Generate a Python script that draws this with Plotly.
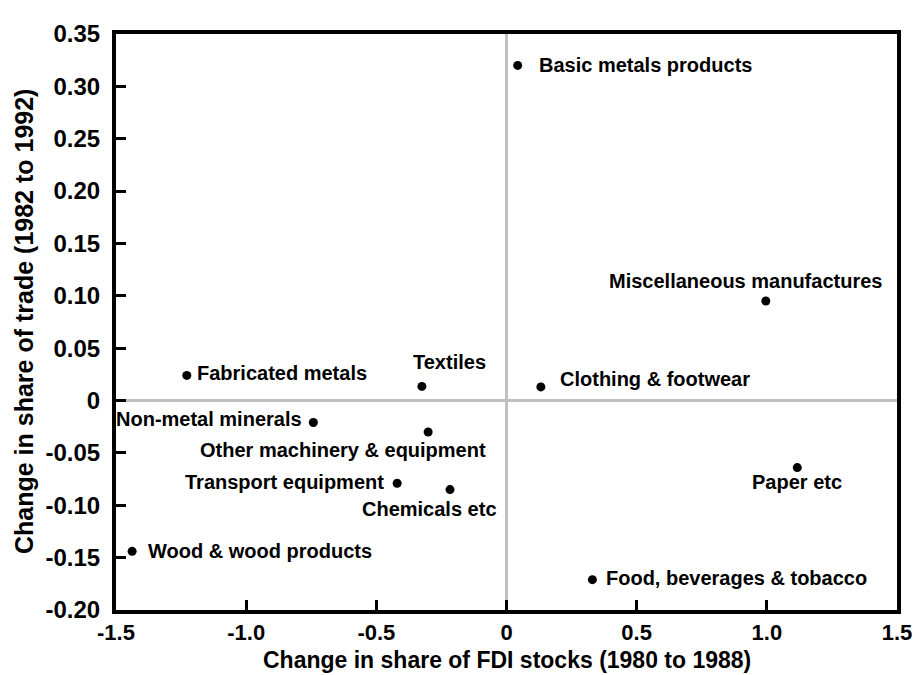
import plotly.graph_objects as go

sectors = ["Basic metals products", "Miscellaneous manufactures", "Clothing & footwear",
           "Textiles", "Fabricated metals", "Non-metal minerals",
           "Other machinery & equipment", "Transport equipment", "Chemicals etc",
           "Wood & wood products", "Paper etc", "Food, beverages & tobacco"]
fdi_change = [0.043, 0.996, 0.132, -0.325, -1.228, -0.742, -0.301, -0.420, -0.217, -1.438, 1.117, 0.330]
trade_change = [0.320, 0.095, 0.013, 0.0135, 0.024, -0.021, -0.030, -0.079, -0.085, -0.144, -0.064, -0.171]

x_ticks = [-1.5, -1.0, -0.5, 0, 0.5, 1.0, 1.5]
x_ticklabels = ["-1.5", "-1.0", "-0.5", "0", "0.5", "1.0", "1.5"]
y_ticks = [0.35, 0.30, 0.25, 0.20, 0.15, 0.10, 0.05, 0, -0.05, -0.10, -0.15, -0.20]
y_ticklabels = ["0.35", "0.30", "0.25", "0.20", "0.15", "0.10", "0.05", "0", "-0.05", "-0.10", "-0.15", "-0.20"]

x_title = "Change in share of FDI stocks (1980 to 1988)"
y_title = "Change in share of trade (1982 to 1992)"

# label placement (pixel offsets from each point, anchors)
label_pos = {
    "Basic metals products": (19, 0, "left"),
    "Miscellaneous manufactures": (-20, 20, "center"),
    "Clothing & footwear": (17, 8, "left"),
    "Textiles": (28, 24, "center"),
    "Fabricated metals": (8, 2, "left"),
    "Non-metal minerals": (-9, 4, "right"),
    "Other machinery & equipment": (-85, -18, "center"),
    "Transport equipment": (-11, 1, "right"),
    "Chemicals etc": (-21, -19, "center"),
    "Wood & wood products": (14, 0, "left"),
    "Paper etc": (0, -14, "center"),
    "Food, beverages & tobacco": (12, 2, "left"),
}

font_family = "Liberation Sans, Arial, sans-serif"

fig = go.Figure()
fig.add_trace(go.Scatter(
    x=fdi_change, y=trade_change, mode="markers",
    marker=dict(color="black", size=9),
    hoverinfo="text", text=sectors, showlegend=False,
))

for name, xv, yv in zip(sectors, fdi_change, trade_change):
    dx, dy, anchor = label_pos[name]
    fig.add_annotation(
        x=xv, y=yv, text="<b>%s</b>" % name, showarrow=False,
        xanchor=anchor, yanchor="middle", xshift=dx, yshift=dy,
        font=dict(family=font_family, size=20, color="black"),
    )

# axis titles
fig.add_annotation(
    xref="paper", yref="paper", x=0.5, y=0, xanchor="center", yanchor="bottom",
    yshift=-65, showarrow=False, text="<b>%s</b>" % x_title,
    font=dict(family=font_family, size=23, color="black"),
)
fig.add_annotation(
    xref="paper", yref="paper", x=0, y=0.5, xanchor="center", yanchor="middle",
    xshift=-92, showarrow=False, textangle=-90, text="<b>%s</b>" % y_title,
    font=dict(family=font_family, size=25, color="black"),
)

fig.update_xaxes(
    range=[-1.5, 1.5], tickvals=x_ticks, ticktext=["<b>%s</b>" % t for t in x_ticklabels],
    showline=True, linecolor="black", linewidth=4, mirror=True,
    ticks="inside", ticklen=10, tickwidth=3, tickcolor="black", ticklabelstandoff=0,
    showgrid=False, zeroline=True, zerolinecolor="#c0c0c0", zerolinewidth=3,
    tickfont=dict(family=font_family, size=22, color="black"),
)
fig.update_yaxes(
    range=[-0.2, 0.35], tickvals=y_ticks, ticktext=["<b>%s</b>" % t for t in y_ticklabels],
    showline=True, linecolor="black", linewidth=4, mirror=True,
    ticks="inside", ticklen=10, tickwidth=3, tickcolor="black", ticklabelstandoff=7,
    showgrid=False, zeroline=True, zerolinecolor="#c0c0c0", zerolinewidth=3,
    tickfont=dict(family=font_family, size=24, color="black"),
)

# the page adds an 8px body margin, so the figure is sized to fit the 924x675 window
fig.update_layout(
    width=916, height=667,
    margin=dict(l=108, r=19, t=18, b=65),
    plot_bgcolor="white", paper_bgcolor="white",
)

fig.write_html("out.html")
